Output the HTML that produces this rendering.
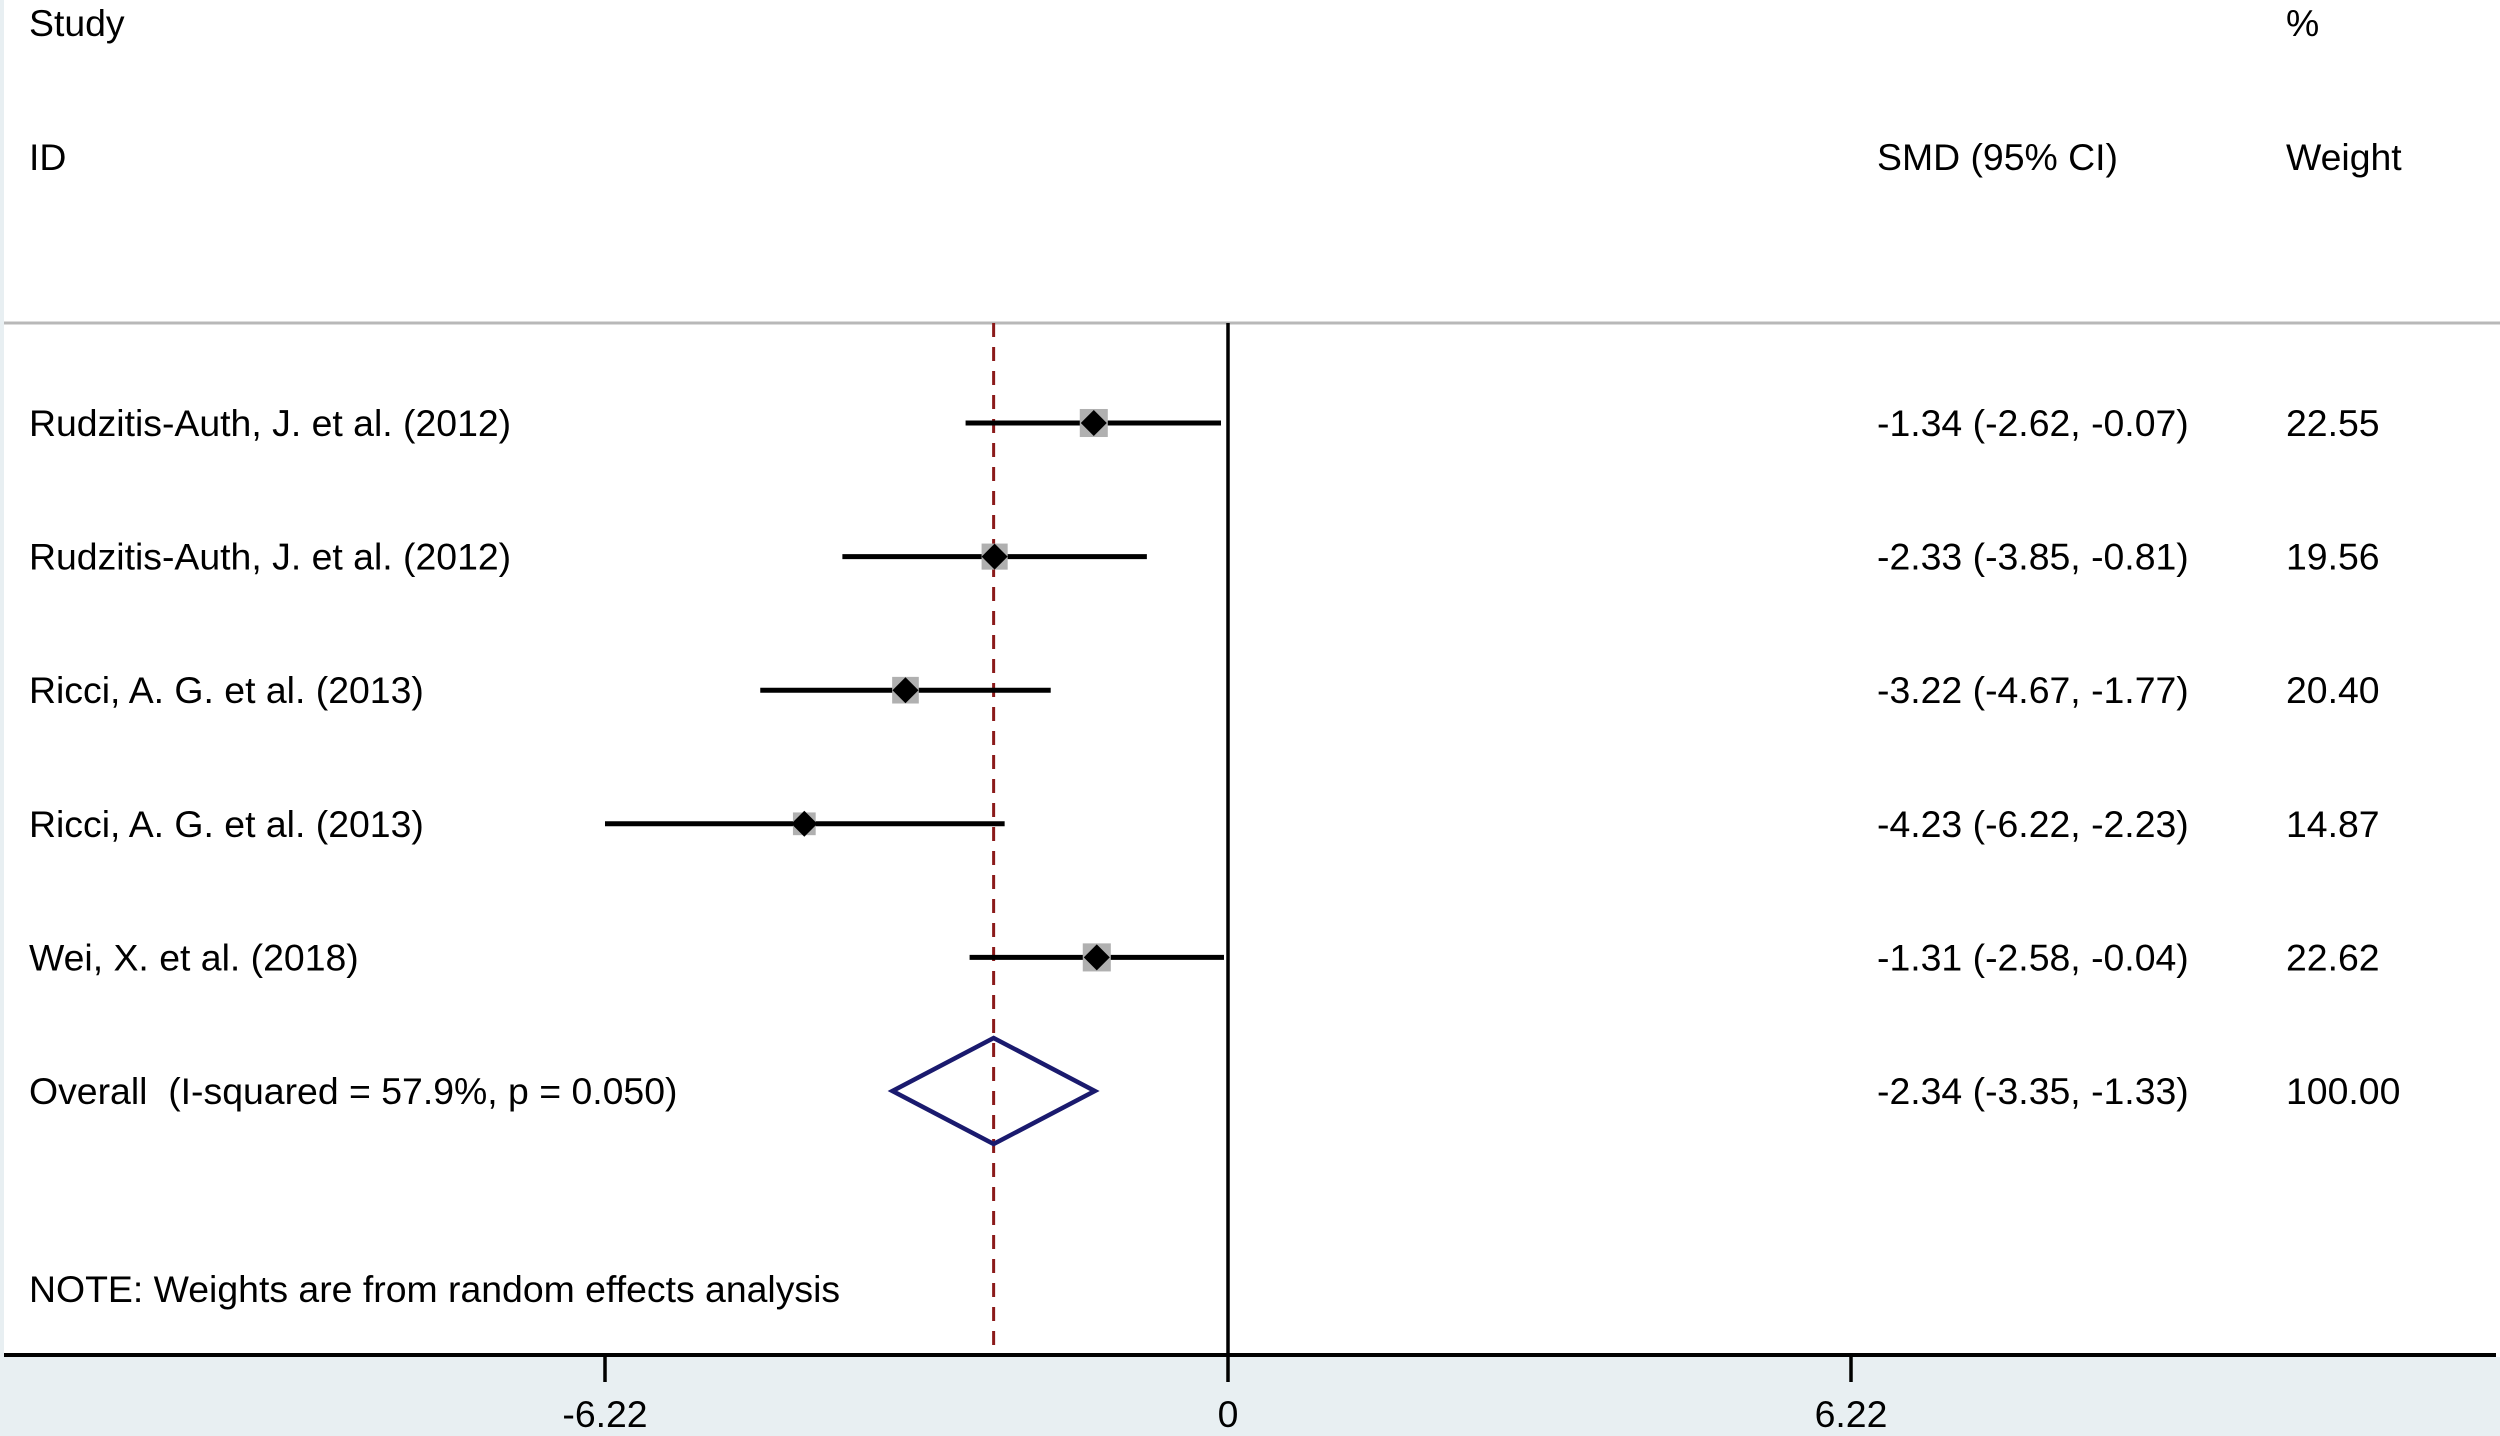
<!DOCTYPE html>
<html><head><meta charset="utf-8"><style>
html,body{margin:0;padding:0;background:#fff}
svg{display:block}
text{font-family:"Liberation Sans",Arial,sans-serif;font-size:37.4px;fill:#000;white-space:pre}
</style></head><body>
<svg id="chart" width="2500" height="1436" viewBox="0 0 2500 1436" xmlns="http://www.w3.org/2000/svg">
<rect x="0" y="0" width="2500" height="1436" fill="#fff"/>
<rect x="0" y="0" width="4" height="1436" fill="#e8eff2"/>
<rect x="0" y="1357" width="2500" height="79" fill="#e8eff2"/>
<text x="29" y="36">Study</text>
<text x="29" y="170">ID</text>
<text x="1877" y="170">SMD (95% CI)</text>
<text x="2286" y="36">%</text>
<text x="2286" y="170">Weight</text>
<line x1="4" y1="323" x2="2500" y2="323" stroke="#b8b8b8" stroke-width="3"/>
<g id="marks"></g>
<text x="29" y="1302">NOTE: Weights are from random effects analysis</text>
</svg>
<script>
const studies = ["Rudzitis-Auth, J. et al. (2012)","Rudzitis-Auth, J. et al. (2012)","Ricci, A. G. et al. (2013)","Ricci, A. G. et al. (2013)","Wei, X. et al. (2018)"];
const smd = [-1.34,-2.33,-3.22,-4.23,-1.31];
const lower = [-2.62,-3.85,-4.67,-6.22,-2.58];
const upper = [-0.07,-0.81,-1.77,-2.23,-0.04];
const weights = [22.55,19.56,20.40,14.87,22.62];
const overall = [-2.34,-3.35,-1.33];
const overallLabel = "Overall  (I-squared = 57.9%, p = 0.050)";
const ticks = [-6.22,0,6.22];
const tickLabels = ["-6.22","0","6.22"];

const NS="http://www.w3.org/2000/svg";
const x0=1228, ppu=(1850-604)/12.44;
function xs(v){return x0+v*ppu;}
function ys(i){return 423+i*133.6;}
const g=document.getElementById('marks');
function mk(tag,attrs,parent){const e=document.createElementNS(NS,tag);for(const k in attrs)e.setAttribute(k,attrs[k]);(parent||g).appendChild(e);return e;}
const yTop=323,yAx=1355;
let z=mk('line',{x1:xs(0),y1:yTop,x2:xs(0),y2:yAx,stroke:'#000','stroke-width':3.5});


let d=mk('line',{x1:xs(overall[0]),y1:yTop,x2:xs(overall[0]),y2:yAx,stroke:'#8b1a1a','stroke-width':3,'stroke-dasharray':'14,10'});


const f=v=>v.toFixed(2);
studies.forEach((s,i)=>{
  const y=ys(i);
  let t=mk('text',{x:29,y:y+13}); t.textContent=s;
  
  
  let l=mk('line',{x1:xs(lower[i]),y1:y,x2:xs(upper[i]),y2:y,stroke:'#000','stroke-width':5});
  
  
  const side=Math.sqrt(weights[i])*5.9;
  let sq=mk('rect',{x:xs(smd[i])-side/2,y:y-side/2,width:side,height:side,fill:'#b0b0b0'});
  
  
  const h=13,cx=xs(smd[i]);
  let dm=mk('polygon',{points:`${cx-h},${y} ${cx},${y-h} ${cx+h},${y} ${cx},${y+h}`,fill:'#000'});
  
  
  let c=mk('text',{x:1877,y:y+13}); c.textContent=`${f(smd[i])} (${f(lower[i])}, ${f(upper[i])})`;
  
  
  let w=mk('text',{x:2286,y:y+13}); w.textContent=f(weights[i]);
  
  
});
const yo=ys(studies.length);
let ol=mk('text',{x:29,y:yo+13}); ol.textContent=overallLabel;


let od=mk('polygon',{points:`${xs(overall[1])},${yo} ${xs(overall[0])},${yo-53} ${xs(overall[2])},${yo} ${xs(overall[0])},${yo+53}`,fill:'none',stroke:'#1a1a6e','stroke-width':4.5,'stroke-linejoin':'miter'});


let oc=mk('text',{x:1877,y:yo+13}); oc.textContent=`${f(overall[0])} (${f(overall[1])}, ${f(overall[2])})`;


let ow=mk('text',{x:2286,y:yo+13}); ow.textContent="100.00";


let ax=mk('line',{x1:4,y1:yAx,x2:2496,y2:yAx,stroke:'#000','stroke-width':4});


ticks.forEach((v,i)=>{
  let tk=mk('line',{x1:xs(v),y1:yAx,x2:xs(v),y2:1382,stroke:'#000','stroke-width':3.5});
  
  
  let tl=mk('text',{x:xs(v),y:1427,'text-anchor':'middle'}); tl.textContent=tickLabels[i];
  
  
});
</script>
</body></html>
